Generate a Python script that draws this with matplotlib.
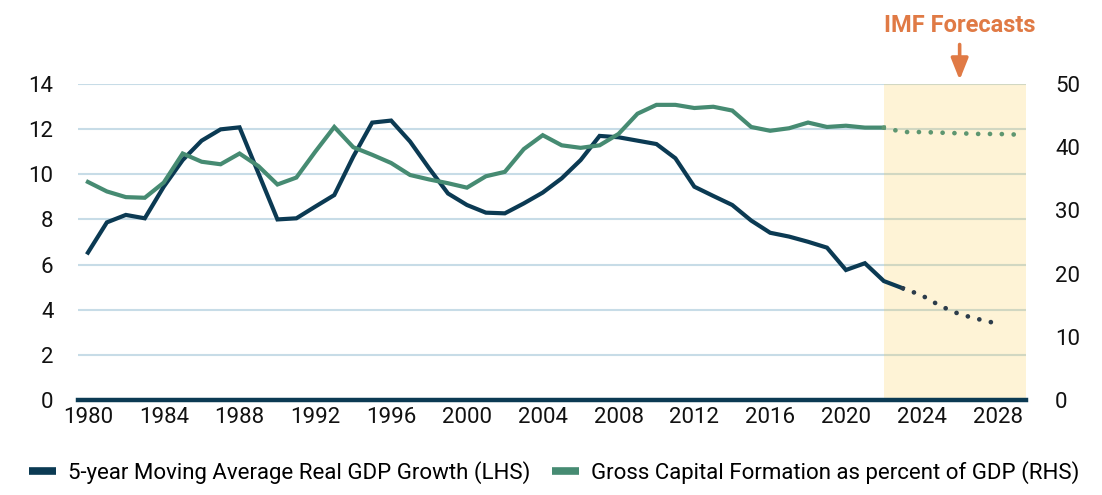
import matplotlib
matplotlib.use("Agg")
import matplotlib.pyplot as plt
from matplotlib import font_manager
from matplotlib.lines import Line2D

# ---------------- data ----------------
years_gdp = list(range(1980, 2024))
gdp_ma = [6.53, 7.87, 8.20, 8.05, 9.45, 10.63, 11.49, 11.99, 12.08, 10.04,
          8.00, 8.05, 8.57, 9.08, 10.78, 12.29, 12.38, 11.45, 10.27, 9.15,
          8.64, 8.30, 8.27, 8.71, 9.19, 9.82, 10.63, 11.70, 11.64, 11.49,
          11.34, 10.71, 9.45, 9.04, 8.64, 7.95, 7.41, 7.24, 7.01, 6.75,
          5.76, 6.06, 5.27, 4.95]
years_gdp_fc = list(range(2023, 2029))
gdp_ma_fc = [4.95, 4.64, 4.16, 3.80, 3.58, 3.38]

years_gcf = list(range(1980, 2023))
gcf = [34.5, 33.0, 32.1, 32.0, 34.4, 39.0, 37.7, 37.3, 39.0, 37.0,
       34.1, 35.2, 39.3, 43.2, 40.0, 38.8, 37.5, 35.6, 34.9, 34.3,
       33.6, 35.4, 36.1, 39.7, 41.9, 40.3, 39.9, 40.3, 42.1, 45.3,
       46.7, 46.7, 46.2, 46.4, 45.8, 43.2, 42.6, 43.0, 43.9, 43.2,
       43.4, 43.1, 43.1]
years_gcf_fc = list(range(2022, 2030))
gcf_fc = [43.1, 42.4, 42.4, 42.3, 42.2, 42.1, 42.1, 42.0]

xticks = list(range(1980, 2029, 4))
left_ticks = [0, 2, 4, 6, 8, 10, 12, 14]
right_ticks = [0, 10, 20, 30, 40, 50]
labels = ["5-year Moving Average Real GDP Growth (LHS)",
          "Gross Capital Formation as percent of GDP (RHS)"]
forecast_start = 2022
annotation = "IMF Forecasts"

# ---------------- style ----------------
names = {f.name for f in font_manager.fontManager.ttflist}
if "Liberation Sans Narrow" in names:
    FONT = "Liberation Sans Narrow"
    FS = 19
    FS_ANN = 19
else:
    FONT = "Roboto"
    FS = 16
    FS_ANN = 17
plt.rcParams["font.family"] = [FONT, "DejaVu Sans"]

NAVY = "#0B3A53"
GREEN = "#468B72"
NAVY_DOT = "#2C3C4B"
GREEN_DOT = "#5E9670"
GRID = "#C7DCE7"
ORANGE = "#E07A45"

fig = plt.figure(figsize=(11.02, 4.95), dpi=100)
ax = fig.add_axes([0.0712, 0.1919, 0.8598, 0.6384])
ax2 = ax.twinx()

ax.set_xlim(1979.5, 2029.5)
ax.set_ylim(0, 14)
ax2.set_ylim(0, 50)

# grid
for t in left_ticks[1:]:
    ax.axhline(t, color=GRID, lw=1.5, zorder=1)

# forecast shading
ax.axvspan(forecast_start, 2029.5, color="#FAC332", alpha=0.2, lw=0, zorder=2)

# bottom axis line
ax.axhline(0, color=NAVY, lw=3.2, zorder=3, clip_on=False)

# lines
ax.plot(years_gdp, gdp_ma, color=NAVY, lw=3, zorder=5, solid_joinstyle="miter")
ax.plot(years_gdp_fc, gdp_ma_fc, color=NAVY_DOT, lw=3.4,
        linestyle=(0, (0.01, 2.5)), dash_capstyle="round", zorder=5)

ax.set_zorder(2)
ax2.set_zorder(3)
ax.patch.set_visible(True)
ax2.patch.set_visible(False)
ax2.plot(years_gcf, gcf, color=GREEN, lw=3, zorder=5, solid_joinstyle="miter")
ax2.plot(years_gcf_fc, gcf_fc, color=GREEN_DOT, lw=3.4,
         linestyle=(0, (0.01, 2.5)), dash_capstyle="round", zorder=5)

# ticks
ax.set_xticks(xticks)
ax.set_xticklabels([str(x) for x in xticks])
ax.set_yticks(left_ticks)
ax2.set_yticks(right_ticks)
ax.tick_params(axis="x", length=0, pad=5, labelsize=FS, colors="#111111")
ax.tick_params(axis="y", length=0, pad=18, labelsize=FS, colors="#111111")
ax2.tick_params(axis="y", length=0, pad=21, labelsize=FS, colors="#111111")
for a in (ax, ax2):
    for s in a.spines.values():
        s.set_visible(False)

# annotation
ax.annotate("", xy=(2026, 14.18), xytext=(2026, 15.75),
            arrowprops=dict(arrowstyle="-|>,head_length=0.65,head_width=0.26",
                            color=ORANGE, lw=2.6, mutation_scale=20,
                            shrinkA=0, shrinkB=0),
            annotation_clip=False)
ax.text(2026, 16.6, annotation, color=ORANGE, fontsize=FS_ANN, fontweight="bold",
        ha="center", va="center", clip_on=False)

# legend
handles = [Line2D([0], [0], color=NAVY, lw=5.5, solid_capstyle="butt"),
           Line2D([0], [0], color=GREEN, lw=5.5, solid_capstyle="butt")]
fig.legend(handles, labels, loc="center", bbox_to_anchor=(0.503, 0.045),
           ncol=2, frameon=False, fontsize=FS, handlelength=1.2,
           handletextpad=0.55, columnspacing=1.0)

fig.savefig("out.png", dpi=100)
